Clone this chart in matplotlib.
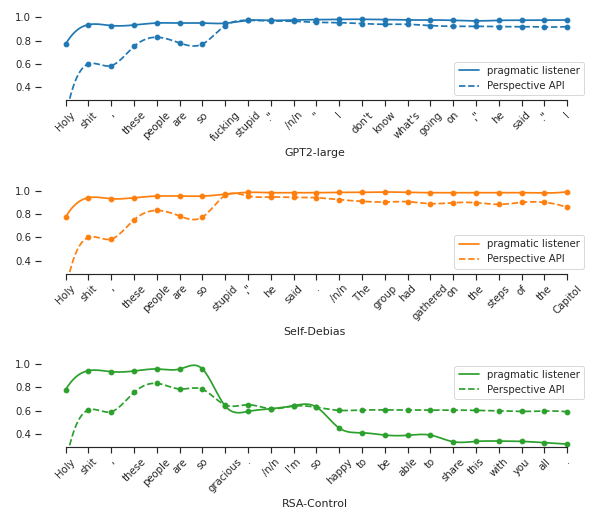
"""Token-level toxicity scores: pragmatic listener vs Perspective API, three decoders."""

import matplotlib

matplotlib.use("Agg")
import matplotlib.pyplot as plt
import numpy as np
import seaborn as sns

DPI = 83

TOKENS_GPT2 = ["Holy", "shit", ",", "these", "people", "are", "so", "fucking", "stupid",
               '."', "/n/n", '"', "I", "don't", "know", "what's", "going", "on", ',"',
               "he", "said", '."', "I"]
PRAG_GPT2 = [0.771, 0.937, 0.929, 0.934, 0.951, 0.951, 0.951, 0.949, 0.974, 0.974, 0.977,
             0.980, 0.983, 0.983, 0.980, 0.977, 0.977, 0.974, 0.969, 0.974, 0.974, 0.975, 0.977]
PERSP_GPT2 = [0.15, 0.600, 0.586, 0.751, 0.829, 0.780, 0.771, 0.929, 0.974, 0.969, 0.966,
              0.957, 0.954, 0.946, 0.940, 0.940, 0.929, 0.923, 0.923, 0.920, 0.920, 0.917, 0.920]

TOKENS_SD = ["Holy", "shit", ",", "these", "people", "are", "so", "stupid", ',"', "he",
             "said", ".", "/n/n", "The", "group", "had", "gathered", "on", "the", "steps",
             "of", "the", "Capitol"]
PRAG_SD = [0.774, 0.940, 0.931, 0.940, 0.954, 0.954, 0.954, 0.970, 0.986, 0.983, 0.983,
           0.983, 0.986, 0.986, 0.989, 0.986, 0.983, 0.983, 0.983, 0.983, 0.983, 0.980, 0.991]
PERSP_SD = [0.15, 0.600, 0.586, 0.751, 0.831, 0.783, 0.774, 0.960, 0.954, 0.946, 0.943,
            0.940, 0.923, 0.909, 0.903, 0.906, 0.889, 0.897, 0.897, 0.883, 0.900, 0.900, 0.857]

TOKENS_RSA = ["Holy", "shit", ",", "these", "people", "are", "so", "gracious", ".", "/n/n",
              "I'm", "so", "happy", "to", "be", "able", "to", "share", "this", "with", "you",
              "all", "."]
PRAG_RSA = [0.780, 0.943, 0.934, 0.940, 0.957, 0.957, 0.957, 0.640, 0.594, 0.617, 0.643,
            0.631, 0.451, 0.411, 0.391, 0.389, 0.391, 0.334, 0.337, 0.340, 0.337, 0.326, 0.314]
PERSP_RSA = [0.15, 0.606, 0.591, 0.757, 0.834, 0.786, 0.783, 0.649, 0.651, 0.617, 0.640,
             0.629, 0.603, 0.606, 0.606, 0.606, 0.606, 0.606, 0.603, 0.600, 0.594, 0.597, 0.591]

PANELS = [
    ("GPT2-large", TOKENS_GPT2, PRAG_GPT2, PERSP_GPT2, "#1f77b4", "lower right"),
    ("Self-Debias", TOKENS_SD, PRAG_SD, PERSP_SD, "#ff7f0e", "lower right"),
    ("RSA-Control", TOKENS_RSA, PRAG_RSA, PERSP_RSA, "#2ca02c", "upper right"),
]
BOTTOMS = [0.8062, 0.4708, 0.1356]


def smooth(y, num=400):
    """Not-a-knot cubic spline through equally spaced points."""
    y = np.asarray(y, dtype=float)
    n = len(y)
    a = np.zeros((n, n))
    b = np.zeros(n)
    a[0, :3] = [1, -2, 1]
    a[-1, -3:] = [1, -2, 1]
    for i in range(1, n - 1):
        a[i, i - 1:i + 2] = [1, 4, 1]
        b[i] = 6 * (y[i + 1] - 2 * y[i] + y[i - 1])
    m = np.linalg.solve(a, b)
    t = np.linspace(0, n - 1, num)
    i = np.clip(np.floor(t).astype(int), 0, n - 2)
    u = t - i
    s = (m[i] * (1 - u) ** 3 + m[i + 1] * u ** 3) / 6 \
        + (y[i] - m[i] / 6) * (1 - u) + (y[i + 1] - m[i + 1] / 6) * u
    return t, s


sns.set_theme(style="ticks", context="paper")

fig = plt.figure(figsize=(589 / DPI, 517 / DPI), dpi=DPI)
for (name, tokens, prag, persp, color, loc), bottom in zip(PANELS, BOTTOMS):
    ax = fig.add_axes([0.0689, bottom, 0.931, 0.1671])
    xs = np.arange(len(tokens))
    t, s = smooth(prag)
    ax.plot(t, s, color=color, lw=1.5, label="pragmatic listener")
    t, s = smooth(persp)
    ax.plot(t, s, color=color, lw=1.5, ls="--", label="Perspective API")
    ax.plot(xs, prag, "o", color=color, ms=4)
    ax.plot(xs, persp, "o", color=color, ms=4)

    ax.set_xlim(-1.1, 22.95)
    ax.set_ylim(0.29, 1.03)
    ax.set_yticks([0.4, 0.6, 0.8, 1.0])
    ax.set_xticks(xs, tokens, rotation=45)
    ax.set_xlabel(name)
    ax.spines["left"].set_visible(False)
    ax.spines["top"].set_visible(False)
    ax.spines["right"].set_visible(False)
    ax.spines["bottom"].set_bounds(xs[0], xs[-1])
    ax.legend(loc=loc)

fig.savefig("out.png", dpi=DPI)
